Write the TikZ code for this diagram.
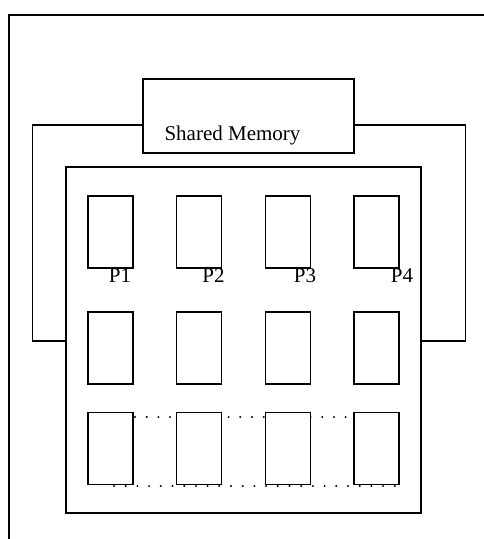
\documentclass[tikz,border=0pt]{standalone}
\usepackage{fontspec}
\setmainfont{Liberation Serif}
\usetikzlibrary{positioning, calc}

\begin{document}
\begin{tikzpicture}[
        x=1pt, y=-1pt,
        font=\fontsize{21}{24}\selectfont,
        frame/.style = {draw, line width=1.3pt},
        memory/.style = {rectangle, draw, line width=1.3pt, minimum width=211pt, minimum height=74pt, inner sep=0pt},
        cluster/.style = {rectangle, draw, line width=1.3pt, minimum width=355pt, minimum height=346pt, inner sep=0pt},
        proc/.style = {rectangle, draw, fill=white, line width=1.3pt, minimum width=45pt, minimum height=72pt, inner sep=0pt},
        plabel/.style = {anchor=base, inner sep=0pt},
        bus/.style = {draw, line width=1.3pt},
        link/.style = {draw, line width=2.2pt, line cap=round, dash pattern=on 0pt off 11.7pt}
    ]
    \useasboundingbox (0,0) rectangle (484,539);

    % Outer frame
    \draw [frame] (9,539) |- (484,15);

    % Nodes
    \node [memory] (shm) at (248.5,116) {};
    \node [plabel] (shmtext) at (232.5,140.5) {Shared Memory};
    \node [cluster] (node) at (243.5,340) {};

    % Bus
    \coordinate (busL) at (shm.west |- 0,125);
    \coordinate (busR) at (shm.east |- 0,125);
    \coordinate (tapL) at (node.west |- 0,341);
    \coordinate (tapR) at (node.east |- 0,341);
    \path [bus] (busL) -- ++(-110,0) |- (tapL);
    \path [bus] (busR) -- ++(111,0) |- (tapR);

    % Dotted link behind the bottom row
    \coordinate (topA) at (135,417);
    \coordinate (topB) at (403,417);
    \path [link] (topA) -- (topB);

    % Processors
    \node [proc] (p1a) at (110.5,232) {};
    \node [proc] (p2a) at (199,232) {};
    \node [proc] (p3a) at (288,232) {};
    \node [proc] (p4a) at (376.5,232) {};

    \node [proc] (p1b) at (110.5,348) {};
    \node [proc] (p2b) at (199,348) {};
    \node [proc] (p3b) at (288,348) {};
    \node [proc] (p4b) at (376.5,348) {};

    \node [proc] (p1c) at (110.5,448.5) {};
    \node [proc] (p2c) at (199,448.5) {};
    \node [proc] (p3c) at (288,448.5) {};
    \node [proc] (p4c) at (376.5,448.5) {};

    % Labels
    \node [plabel] (l1) at (120,282) {P1};
    \node [plabel] (l2) at (213.5,282) {P2};
    \node [plabel] (l3) at (305,282) {P3};
    \node [plabel] (l4) at (402,282) {P4};

    % Dotted link along the bottom row
    \coordinate (botA) at (114,486);
    \coordinate (botB) at (395,486);
    \path [link] (botA) -- (botB);

\end{tikzpicture}
\end{document}
